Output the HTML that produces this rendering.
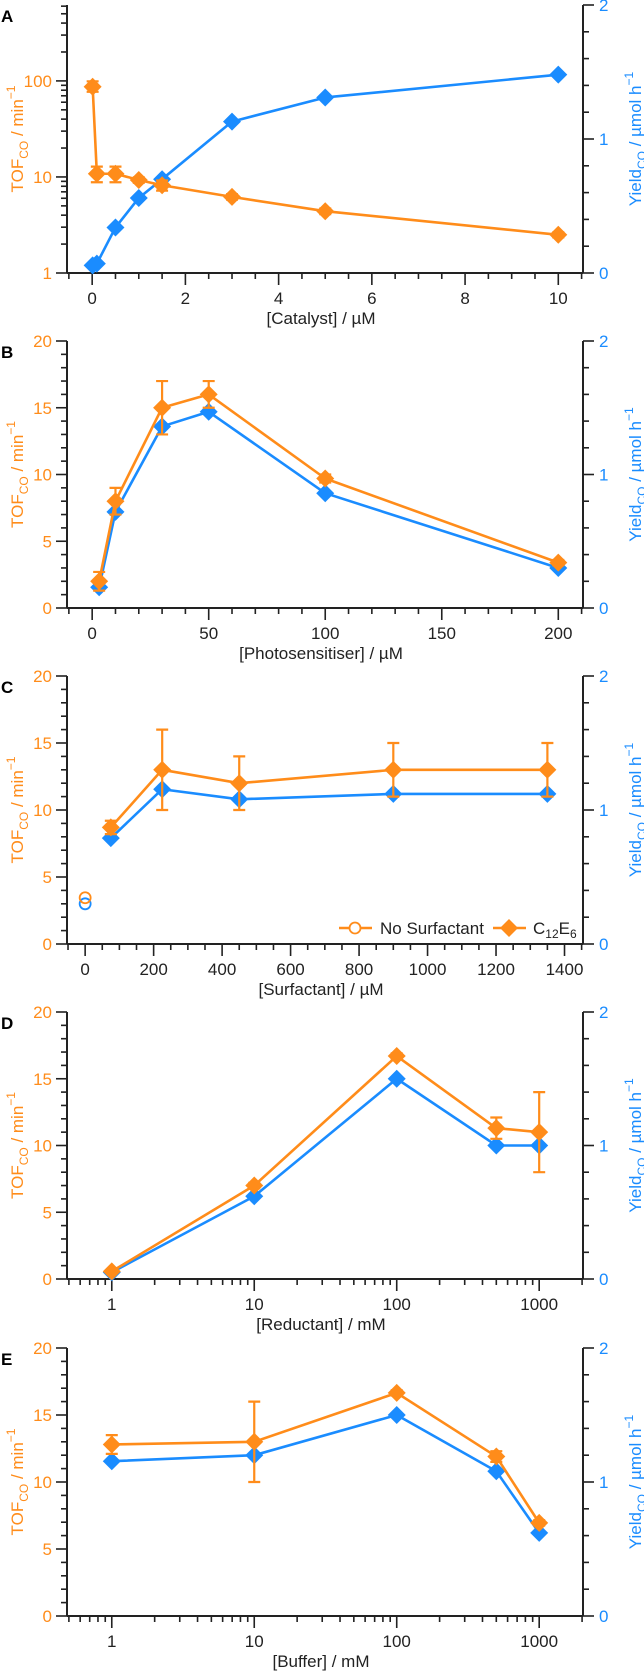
<!DOCTYPE html>
<html><head><meta charset="utf-8">
<style>
html,body{margin:0;padding:0;background:#fff;}
svg{display:block;font-family:"Liberation Sans",Arial,sans-serif;}
</style></head>
<body>
<svg id="fig" width="644" height="1671" viewBox="0 0 644 1671" xmlns="http://www.w3.org/2000/svg"></svg>
<script>
// ---- Data ----
// Panel A: catalyst
const aX = [0.01, 0.1, 0.5, 1, 1.5, 3, 5, 10];
const aTof = [87, 10.8, 10.8, 9.3, 8.2, 6.2, 4.4, 2.5];
const aTofErrLo = [10, 2, 2, 0.6, 1, 0.4, 0.3, 0.15];
const aTofErrHi = [12, 2, 2, 0.6, 1, 0.4, 0.3, 0.15];
const aYield = [0.057, 0.07, 0.34, 0.56, 0.70, 1.13, 1.31, 1.48];
// Panel B: photosensitiser
const bX = [3, 10, 30, 50, 100, 200];
const bTof = [2.0, 8.0, 15.0, 16.0, 9.7, 3.4];
const bTofErr = [0.7, 1.0, 2.0, 1.0, 0.3, 0.2];
const bYield = [0.155, 0.72, 1.36, 1.47, 0.86, 0.30];
// Panel C: surfactant
const cX = [75, 225, 450, 900, 1350];
const cTof = [8.7, 13, 12, 13, 13];
const cTofErr = [0.5, 3, 2, 2, 2];
const cYield = [0.79, 1.155, 1.08, 1.12, 1.12];
const cNoSurfX = [0];
const cNoSurfTof = [3.45];
const cNoSurfYield = [0.30];
// Panel D: reductant
const dX = [1, 10, 100, 500, 1000];
const dTof = [0.57, 7.0, 16.7, 11.3, 11.0];
const dTofErr = [0.1, 0.2, 0.2, 0.8, 3.0];
const dYield = [0.05, 0.62, 1.5, 1.0, 1.0];
// Panel E: buffer
const eX = [1, 10, 100, 500, 1000];
const eTof = [12.8, 13.0, 16.65, 11.9, 6.95];
const eTofErr = [0.7, 3.0, 0.2, 0.4, 0.2];
const eYield = [1.155, 1.2, 1.5, 1.08, 0.62];

const OR = '#ff8c1a', BL = '#1a8cff', AX = '#222';
const svg = document.getElementById('fig');
const NS = 'http://www.w3.org/2000/svg';
function el(tag, attrs, parent) {
  const e = document.createElementNS(NS, tag);
  for (const k in attrs) e.setAttribute(k, attrs[k]);
  (parent || svg).appendChild(e);
  return e;
}

const L = 67, R = 583;
const panels = [
  {key:'a', letter:'A', top:5, bottom:273, xmin:-0.54, xmax:10.53, xlog:false, ylog:true, ymin:1, ymax:617,
   xMajor:[0,2,4,6,8,10], xMinorStep:0.5, xlabel:'[Catalyst] / µM'},
  {key:'b', letter:'B', top:341, bottom:608, xmin:-10.8, xmax:210.6, xlog:false, ylog:false, ymin:0, ymax:20,
   xMajor:[0,50,100,150,200], xMinorStep:10, xlabel:'[Photosensitiser] / µM'},
  {key:'c', letter:'C', top:676, bottom:944, xmin:-53, xmax:1454, xlog:false, ylog:false, ymin:0, ymax:20,
   xMajor:[0,200,400,600,800,1000,1200,1400], xMinorStep:50, xlabel:'[Surfactant] / µM'},
  {key:'d', letter:'D', top:1012, bottom:1279, xmin:0.485, xmax:2030, xlog:true, ylog:false, ymin:0, ymax:20,
   xMajor:[1,10,100,1000], xlabel:'[Reductant] / mM'},
  {key:'e', letter:'E', top:1348, bottom:1616, xmin:0.485, xmax:2030, xlog:true, ylog:false, ymin:0, ymax:20,
   xMajor:[1,10,100,1000], xlabel:'[Buffer] / mM'}
];

function mkScales(p) {
  const sx = v => p.xlog
    ? L + (Math.log10(v) - Math.log10(p.xmin)) / (Math.log10(p.xmax) - Math.log10(p.xmin)) * (R - L)
    : L + (v - p.xmin) / (p.xmax - p.xmin) * (R - L);
  const sy = v => p.ylog
    ? p.bottom - (Math.log10(v) - Math.log10(p.ymin)) / (Math.log10(p.ymax) - Math.log10(p.ymin)) * (p.bottom - p.top)
    : p.bottom - (v - p.ymin) / (p.ymax - p.ymin) * (p.bottom - p.top);
  const sy2 = v => p.bottom - v / 2 * (p.bottom - p.top);
  return {sx, sy, sy2};
}

function diamond(g, x, y, color, name) {
  const s = 9;
  const d = el('polygon', {points:`${x},${y-s} ${x+s},${y} ${x},${y+s} ${x-s},${y}`, fill:color}, g);
  
  
}
function series(g, xs, ys, sx, sy, color, name) {
  const pts = xs.map((x, i) => sx(x) + ',' + sy(ys[i])).join(' ');
  const pl = el('polyline', {points:pts, fill:'none', stroke:color, 'stroke-width':2.6, 'stroke-linejoin':'round'}, g);
  
  
  xs.forEach((x, i) => diamond(g, sx(x), sy(ys[i]), color, name + '-point'));
}
function errbars(g, xs, ys, lo, hi, sx, sy, color, name) {
  xs.forEach((x, i) => {
    const X = sx(x), y1 = sy(ys[i] - lo[i]), y2 = sy(ys[i] + hi[i]);
    const e = el('path', {d:`M${X},${y1}V${y2}M${X-6},${y1}H${X+6}M${X-6},${y2}H${X+6}`, stroke:color, 'stroke-width':2.2, fill:'none'}, g);
    
    
  });
}

function axes(p, s) {
  const g = el('g', {});
  
  
  const ln = (x1,y1,x2,y2,w) => el('line', {x1, y1, x2, y2, stroke:AX, 'stroke-width':w||1.6}, g);
  // axis lines
  ln(L, p.top, L, p.bottom, 2);
  ln(R, p.top, R, p.bottom, 2);
  ln(L, p.bottom, R, p.bottom, 2);
  // left ticks
  if (p.ylog) {
    for (let d = 1; d <= 100; d *= 10) {
      for (let m = 1; m <= 9; m++) {
        const v = d * m;
        if (v > p.ymax) break;
        const y = s.sy(v);
        ln(L - (m === 1 ? 11 : 6), y, L, y);
      }
    }
    [1, 10, 100].forEach(v => {
      const t = el('text', {x:52, y:s.sy(v) + 6, 'text-anchor':'end', 'font-size':17, fill:OR}, g);
      t.textContent = v;
      
      
    });
  } else {
    for (let v = 0; v <= 20; v++) {
      const y = s.sy(v);
      ln(L - (v % 5 === 0 ? 11 : 6), y, L, y);
    }
    [0, 5, 10, 15, 20].forEach(v => {
      const t = el('text', {x:52, y:s.sy(v) + 6, 'text-anchor':'end', 'font-size':17, fill:OR}, g);
      t.textContent = v;
      
      
    });
  }
  // right ticks
  for (let i = 0; i <= 10; i++) {
    const y = s.sy2(i * 0.2);
    ln(R, y, R + (i % 5 === 0 ? 11 : 6), y);
  }
  [0, 1, 2].forEach(v => {
    const t = el('text', {x:599, y:s.sy2(v) + 6, 'text-anchor':'start', 'font-size':17, fill:BL}, g);
    t.textContent = v;
    
    
  });
  // x ticks
  if (p.xlog) {
    for (let d = 0.1; d <= 1000; d *= 10) {
      for (let m = 1; m <= 9; m++) {
        const v = d * m;
        if (v < p.xmin || v > p.xmax) continue;
        const x = s.sx(v);
        ln(x, p.bottom, x, p.bottom + (m === 1 ? 12 : 6));
      }
    }
  } else {
    const st = p.xMinorStep;
    for (let v = Math.ceil(p.xmin / st) * st; v <= p.xmax + 1e-9; v += st) {
      const x = s.sx(v);
      const major = p.xMajor.some(m => Math.abs(m - v) < 1e-6);
      ln(x, p.bottom, x, p.bottom + (major ? 12 : 6));
    }
  }
  p.xMajor.forEach(v => {
    const t = el('text', {x:s.sx(v), y:p.bottom + 31, 'text-anchor':'middle', 'font-size':17, fill:AX}, g);
    t.textContent = v;
    
    
  });
  const xl = el('text', {x:(L + R) / 2 - 4, y:p.bottom + 51, 'text-anchor':'middle', 'font-size':17, fill:AX}, g);
  xl.textContent = p.xlabel;
  
  
  // panel letter
  const lt = el('text', {x:1, y:p.top + 17, 'font-size':17, 'font-weight':'bold', fill:'#000'}, g);
  lt.textContent = p.letter;
  
  
  // y titles
  const cy = (p.top + p.bottom) / 2;
  const yl = el('text', {transform:`translate(23,${cy}) rotate(-90)`, 'text-anchor':'middle', 'font-size':17, fill:OR}, g);
  yl.innerHTML = 'TOF<tspan font-size="12" dy="5">CO</tspan><tspan dy="-5"> / min</tspan><tspan font-size="12" dy="-8">−1</tspan>';
  
  
  const yr = el('text', {transform:`translate(641,${cy}) rotate(-90)`, 'text-anchor':'middle', 'font-size':17, fill:BL}, g);
  yr.innerHTML = 'Yield<tspan font-size="12" dy="5">CO</tspan><tspan dy="-5"> / µmol h</tspan><tspan font-size="12" dy="-8">−1</tspan>';
  
  
}

const data = {
  a:{x:aX, tof:aTof, lo:aTofErrLo, hi:aTofErrHi, y:aYield},
  b:{x:bX, tof:bTof, lo:bTofErr, hi:bTofErr, y:bYield},
  c:{x:cX, tof:cTof, lo:cTofErr, hi:cTofErr, y:cYield},
  d:{x:dX, tof:dTof, lo:dTofErr, hi:dTofErr, y:dYield},
  e:{x:eX, tof:eTof, lo:eTofErr, hi:eTofErr, y:eYield}
};

panels.forEach(p => {
  const s = mkScales(p);
  axes(p, s);
  const g = el('g', {});
  
  
  const d = data[p.key];
  series(g, d.x, d.y, s.sx, s.sy2, BL, 'yield-series');
  errbars(g, d.x, d.tof, d.lo, d.hi, s.sx, s.sy, OR, 'tof-error-bar');
  series(g, d.x, d.tof, s.sx, s.sy, OR, 'tof-series');
  if (p.key === 'c') {
    const c1 = el('circle', {cx:s.sx(cNoSurfX[0]), cy:s.sy2(cNoSurfYield[0]), r:5.5, fill:'none', stroke:BL, 'stroke-width':1.8}, g);
    
    
    const c2 = el('circle', {cx:s.sx(cNoSurfX[0]), cy:s.sy(cNoSurfTof[0]), r:5.5, fill:'none', stroke:OR, 'stroke-width':1.8}, g);
    
    
    // legend
    const lg = el('g', {});
    
    
    const ly = 928;
    el('line', {x1:339, y1:ly, x2:372, y2:ly, stroke:OR, 'stroke-width':2.6}, lg);
    el('circle', {cx:355, cy:ly, r:5.5, fill:'#fff', stroke:OR, 'stroke-width':1.8}, lg);
    const t1 = el('text', {x:380, y:ly + 6, 'font-size':17, fill:AX}, lg);
    t1.textContent = 'No Surfactant';
    
    
    el('line', {x1:493, y1:ly, x2:526, y2:ly, stroke:OR, 'stroke-width':2.6}, lg);
    el('polygon', {points:`509,${ly-9} 518,${ly} 509,${ly+9} 500,${ly}`, fill:OR}, lg);
    const t2 = el('text', {x:533, y:ly + 6, 'font-size':17, fill:AX}, lg);
    t2.innerHTML = 'C<tspan font-size="12" dy="4">12</tspan><tspan dy="-4">E</tspan><tspan font-size="12" dy="4">6</tspan>';
    
    
  }
});
</script>
</body></html>
